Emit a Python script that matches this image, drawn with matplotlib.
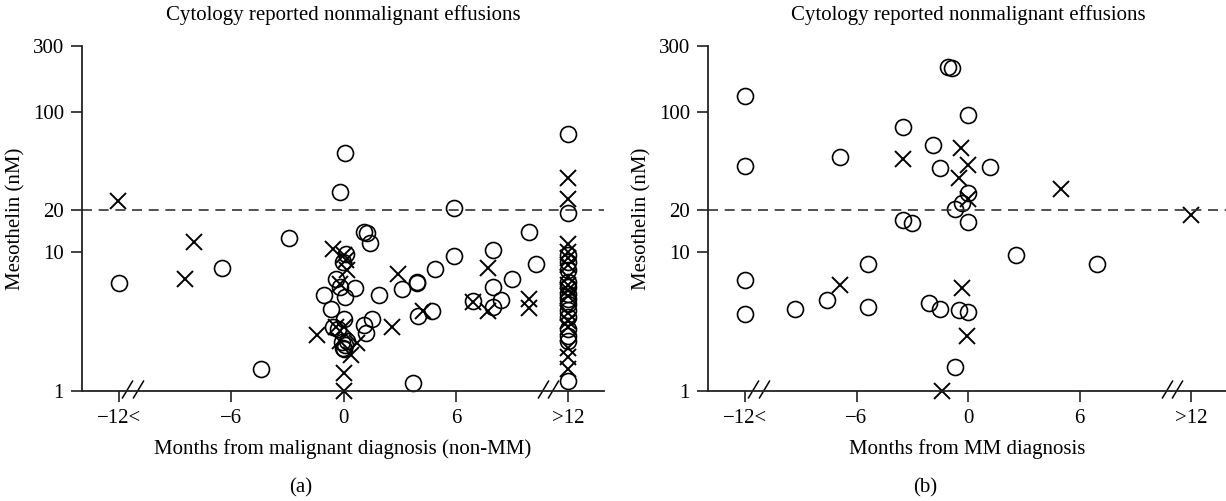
import matplotlib
matplotlib.use("Agg")
import matplotlib.pyplot as plt

plt.rcParams['font.family'] = ['Liberation Serif', 'DejaVu Serif']

# panel (a): non-MM, months from malignant diagnosis, mesothelin nM
a_circ_x = [-12, -6.5, -2.9, -4.4, 0.1, -0.2, 5.9, 1.1, 1.25, 1.4, 9.9, 0.15, -0.04,
            8.0, 5.9, 10.3, 4.9, -0.4, 0.6, -0.2, 9.0, 3.9, 3.95, 3.1, 8.0, -1.05,
            0.1, 1.9, 8.4, 6.9, -0.65, 8.0, 4.75, 4.0, 1.5, 1.1, 1.2, 0.05, -0.57,
            -0.3, -0.1, 0.1, -0.05, 0.2, 0.0, 3.7]
a_circ_y = [6.0, 7.65, 12.6, 1.43, 51, 26.6, 20.6, 13.9, 13.5, 11.5, 13.8, 9.6, 8.4,
            10.3, 9.3, 8.2, 7.5, 6.4, 5.5, 5.6, 6.4, 6.08, 5.95, 5.4, 5.6, 4.9,
            4.7, 4.9, 4.5, 4.4, 3.85, 4.0, 3.76, 3.45, 3.3, 2.97, 2.6, 3.3, 2.9,
            2.8, 2.25, 2.15, 2.05, 2.3, 2.0, 1.15]
a_cross_x = [-12.05, -8.0, -8.5, -1.4, -0.57, 0.05, 0.15, 0.2, -0.2, 2.9, 7.7, 4.25,
             6.9, 7.7, 9.9, 9.9, 2.6, 0.0, -0.4, -0.2, 0.7, 0.4, 0.0, 0.0]
a_cross_y = [23, 11.8, 6.4, 2.52, 10.4, 9.4, 8.7, 7.4, 5.9, 6.9, 7.6, 3.76,
             4.37, 3.74, 4.56, 3.92, 2.9, 2.9, 2.9, 2.3, 2.2, 1.81, 1.34, 1.0]
# values piled at ">12"
a_circ12 = [70, 18.8, 9.4, 8.4, 7.4, 6.1, 5.6, 5.0, 4.6, 4.2, 3.8, 3.4, 2.8, 2.5, 2.3, 1.17]
a_cross12 = [33.5, 23.7, 11.4, 9.9, 9.0, 8.0, 6.6, 5.8, 5.3, 4.8, 3.6, 3.2, 2.9, 2.05, 1.75, 1.45]

# panel (b): MM
b_circ_x = [-12, -12, -12, -12, -9.3, -7.6, -6.9, -5.4, -5.4, -3.5, -3.5, -3.0, -1.9,
            -2.1, -1.5, -1.5, -1.06, -0.88, 0, 1.2, 0, -0.3, -0.7, 0, -0.5, 0, -0.7,
            2.6, 6.95]
b_circ_y = [130, 41, 6.3, 3.56, 3.9, 4.5, 47.8, 8.1, 4.0, 78.5, 16.8, 16.1, 58,
            4.3, 39.9, 3.89, 211, 208, 95, 40.5, 26.4, 22.2, 20.1, 16.4, 3.81, 3.68, 1.49,
            9.44, 8.13]
b_cross_x = [-6.9, -3.5, -0.4, 0, -0.5, 0, 5.0, 12.0, -0.3, -0.07, -1.4]
b_cross_y = [5.75, 46.5, 55.8, 41.7, 33.5, 23.7, 27.9, 18.3, 5.45, 2.48, 1.0]

xticks = [-12, -6, 0, 6, 12]
xticklabels = ['\u221212<', '\u22126', '0', '6', '>12']
yticks = [1, 10, 20, 100, 300]
cutoff = 20

W, H = 1226, 501
fig = plt.figure(figsize=(W / 100, H / 100), dpi=100)
FS = 15


def panel(ax, cx, cy, kx, ky, xlim, xlabel, brk):
    ax.plot(cx, cy, 'o', ms=11.5, mfc='none', mec='black', mew=1.2, clip_on=False)
    ax.plot(kx, ky, 'x', ms=11, mec='black', mew=1.4, clip_on=False)
    ax.axhline(cutoff, color='#333333', lw=1.2, ls=(0, (6, 4)))
    ax.set_yscale('log')
    ax.set_ylim(1, 300)
    ax.set_xlim(*xlim)
    ax.set_yticks(yticks)
    ax.set_yticklabels([str(t) for t in yticks])
    ax.minorticks_off()
    ax.set_xticks(xticks)
    ax.set_xticklabels(xticklabels)
    for s in ['top', 'right']:
        ax.spines[s].set_visible(False)
    for s in ['left', 'bottom']:
        ax.spines[s].set_linewidth(1.3)
        ax.spines[s].set_color('#222222')
    ax.tick_params(axis='both', direction='out', length=8, width=1.2,
                   labelsize=FS, pad=5, color='#222222')
    ax.set_ylabel('Mesothelin (nM)', fontsize=FS, labelpad=5)
    ax.set_xlabel(xlabel, fontsize=FS, labelpad=8)
    # axis break marks
    ax.plot(brk, [1.03, 1.03, 1.03, 1.03], ls='none', marker=[(-0.6, -1), (0.6, 1)],
            ms=13, mec='black', mew=1.1, clip_on=False)


ax1 = fig.add_axes([82 / W, 1 - 391 / H, (604 - 82) / W, (391 - 45.7) / H])
panel(ax1, a_circ_x + [12] * len(a_circ12), a_circ_y + a_circ12,
      a_cross_x + [12] * len(a_cross12), a_cross_y + a_cross12,
      (-13.98, 13.92), 'Months from malignant diagnosis (non-MM)',
      [-11.55, -11.0, 10.65, 11.2])

ax2 = fig.add_axes([708 / W, 1 - 391 / H, (1226 - 708) / W, (391 - 45.7) / H])
panel(ax2, b_circ_x, b_circ_y, b_cross_x, b_cross_y,
      (-13.99, 13.88), 'Months from MM diagnosis',
      [-11.55, -11.0, 10.7, 11.25])

fig.text(343 / W, 1 - 15 / H, 'Cytology reported nonmalignant effusions',
         ha='center', va='center', fontsize=FS)
fig.text(968 / W, 1 - 15 / H, 'Cytology reported nonmalignant effusions',
         ha='center', va='center', fontsize=FS)
fig.text(301 / W, 1 - 488 / H, '(a)', ha='center', va='center', fontsize=FS)
fig.text(925 / W, 1 - 488 / H, '(b)', ha='center', va='center', fontsize=FS)

fig.savefig('out.png', dpi=100)
